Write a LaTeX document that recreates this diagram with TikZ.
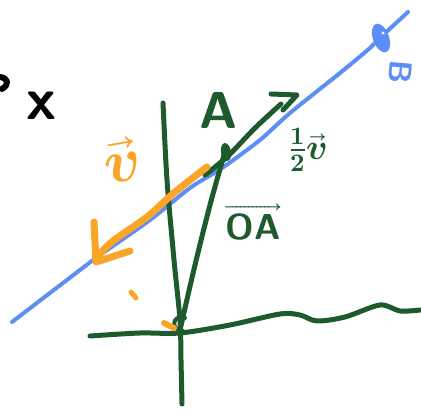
\documentclass[tikz,border=0pt]{standalone}
\usepackage{amsmath}
\usepackage{unicode-math}
\setmathfont{Latin Modern Math}
\definecolor{sgreen}{RGB}{30,90,46}
\definecolor{sblue}{RGB}{92,142,245}
\definecolor{sorange}{RGB}{250,165,40}
\begin{document}
\begin{tikzpicture}[x=1pt,y=-1pt,line cap=round,line join=round,
  gr/.style={draw=sgreen,line width=5pt},
  bl/.style={draw=sblue,line width=4pt},
  orl/.style={draw=sorange,line width=7pt},
  bk/.style={draw=black,line width=6pt},
  lab/.style={inner sep=0pt,font=\sffamily\bfseries\fontsize{#1}{#1}\selectfont},
  lab/.default=40]
\useasboundingbox[fill=white] (0,0) rectangle (421,414);
% blue line and point B
\draw[bl] plot[smooth,tension=0.5] coordinates {(12,322) (80,270) (100,255) (150,220) (190,188) (222,168) (260,140) (290,113) (340,73) (370,48) (381,37) (408,12)};
\fill[sblue,rotate around={20:(381,38)}] (381,38) ellipse [x radius=8pt,y radius=15pt];
\fill[white] (383,33) circle [radius=1.6pt];
\node[lab=32,text=sblue,rotate=-95] (B) at (401,72) {B};
% green axes
\draw[gr] plot[smooth,tension=0.5] coordinates {(163,103) (167,180) (174,260) (180,320) (181,360) (182,404)};
\draw[gr] plot[smooth,tension=0.5] coordinates {(90,336) (140,333) (180,333) (230,325) (280,314) (300,315) (317,321) (345,317) (380,305) (400,311) (420,310)};
\draw[gr,line width=4pt] (183,331) .. controls (170,330) and (172,314) .. (185,318);
% OA line and point A
\draw[gr] plot[smooth,tension=0.5] coordinates {(180,330) (195,265) (210,205) (224,155)};
\fill[sgreen,rotate around={10:(226,152)}] (226,152) ellipse [x radius=5pt,y radius=9pt];
% half v vector
\draw[gr] plot[smooth,tension=0.5] coordinates {(205,175) (228,156) (255,128) (281,104)};
\draw[gr] (271,94) -- (297,95) -- (283,110);
% orange vector v
\draw[orl] plot[smooth,tension=0.5] coordinates {(207,167) (175,192) (147,217) (113,241) (96,258)};
\draw[orl] (94,222) -- (96,262) -- (130,251);
\draw[orl,line width=5pt] (131,292) -- (136,298);
\draw[orl,line width=6pt] (164,323) -- (174,328);
% labels
\node[lab=52,text=sgreen] (A) at (219,110) {A};
\node[lab=36,text=sgreen] (OA) at (253,222) {$\overrightarrow{\symbfsf{OA}}$};
\node[lab=36,text=sgreen] (half) at (308,150) {$\symbf{\tfrac{1}{2}}\vec{\symbfit{v}}$};
\node[lab=62,text=sorange,rotate=10] (v) at (121,160) {$\vec{\symbfit{v}}$};
% black marks
\draw[bk] (0,77) .. controls (8,78) and (10,84) .. (2,89);
\node[lab=60,text=black] (x) at (42,106) {x};
\end{tikzpicture}
\end{document}
